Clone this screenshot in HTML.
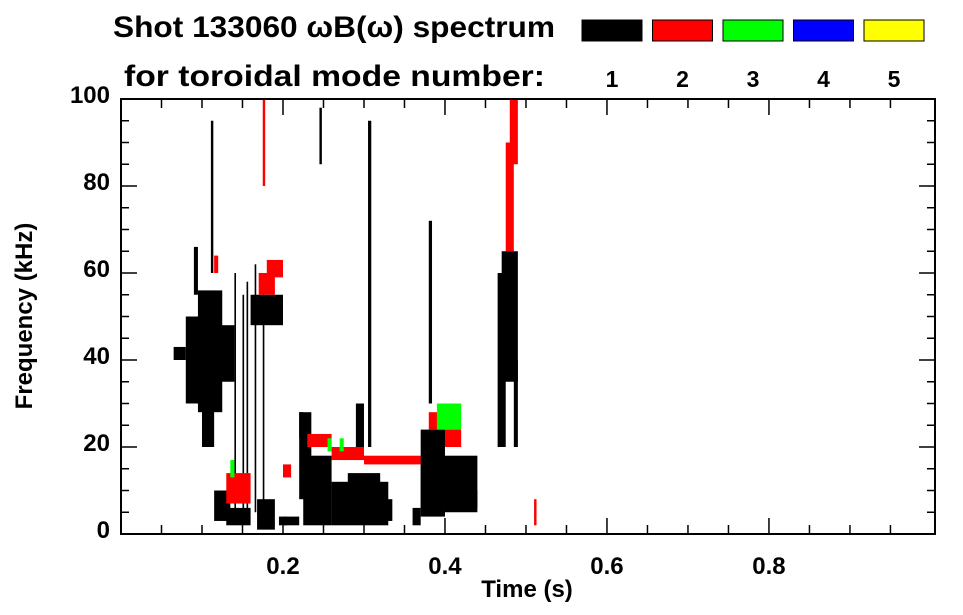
<!DOCTYPE html>
<html><head><meta charset="utf-8"><style>
body{margin:0;background:#fff;}
svg{display:block;font-family:"Liberation Sans",sans-serif;font-weight:bold;}
</style></head><body>
<svg id="chart" width="963" height="615">
<text x="113" y="37" font-size="30" textLength="442" lengthAdjust="spacingAndGlyphs">Shot 133060 ωB(ω) spectrum</text>
<text x="124" y="86" font-size="30" textLength="421" lengthAdjust="spacingAndGlyphs">for toroidal mode number:</text>
<g id="legend"></g>
<g id="marks"></g>
<g id="axes"></g>
<text x="527" y="597" font-size="24" text-anchor="middle">Time (s)</text>
<text transform="translate(32,316) rotate(-90)" font-size="24" text-anchor="middle">Frequency (kHz)</text>
</svg>
<script>
const modes=[1,2,3,4,5];
const modeColors=["#000","#f00","#0f0","#00f","#ff0"];
const xTicks=[0.2,0.4,0.6,0.8];
const yTicks=[0,20,40,60,80,100];
// patches: t0,t1,f0,f1,mode
const pT0=[0.065,0.08,0.095,0.10,0.11,0.09,0.111,0.115,0.13,0.14,0.15,0.155,0.165,0.175,0.168,0.16,0.195,0.2,0.22,0.225,0.26,0.28,0.305,0.245,0.29,0.37,0.37,0.40,0.38,0.465,0.47,0.485,0.22,0.30,0.36,
 0.17,0.18,0.175,0.23,0.26,0.30,0.38,0.40,0.475,0.48,0.13,0.115,0.2,0.51,
 0.39,0.27,0.135,0.255];
const pT1=[0.08,0.10,0.125,0.115,0.14,0.095,0.114,0.135,0.16,0.142,0.152,0.157,0.167,0.177,0.19,0.2,0.205,0.22,0.235,0.26,0.33,0.32,0.309,0.248,0.3,0.44,0.40,0.44,0.384,0.475,0.49,0.49,0.225,0.335,0.37,
 0.19,0.2,0.178,0.26,0.30,0.37,0.40,0.42,0.485,0.49,0.16,0.12,0.21,0.513,
 0.42,0.275,0.14,0.26];
const pF0=[40,30,28,20,35,55,60,3,2,5,5,5,5,5,1,48,2,2,8,2,2,5,20,85,20,6,4,5,30,20,35,20,22,3,2,
 55,59,80,20,17,16,24,20,65,85,7,60,13,2,
 24,19,13,19];
const pF1=[43,50,56,40,48,66,95,10,6,60,55,58,62,58,8,55,4,4,28,18,12,14,95,98,30,18,24,10,72,60,65,40,28,8,6,
 60,63,100,23,20,18,28,24,90,100,14,64,16,8,
 30,22,17,22];
const pMode=[1,1,1,1,1,1,1,1,1,1,1,1,1,1,1,1,1,1,1,1,1,1,1,1,1,1,1,1,1,1,1,1,1,1,1,
 2,2,2,2,2,2,2,2,2,2,2,2,2,2,
 3,3,3,3];
const X0=121,X1=935,Y0=534,Y1=99,TMAX=1.005;
const xs=t=>X0+t/TMAX*(X1-X0);
const ys=f=>Y0-f/100*(Y0-Y1);
const NS="http://www.w3.org/2000/svg";
function mk(tag,attrs,parent){const e=document.createElementNS(NS,tag);for(const k in attrs)e.setAttribute(k,attrs[k]);parent.appendChild(e);return e;}
const marks=document.getElementById('marks');
for(let i=0;i<pT0.length;i++){
 const r=mk('rect',{x:xs(pT0[i]),y:ys(pF1[i]),width:Math.max(1,xs(pT1[i])-xs(pT0[i])),height:ys(pF0[i])-ys(pF1[i]),fill:modeColors[pMode[i]-1]},marks);
 
 
}
const lg=document.getElementById('legend');
modes.forEach((m,i)=>{
 const x=582+i*70.5;
 const r=mk('rect',{x:x,y:20,width:60,height:21,fill:modeColors[i],stroke:"#000","stroke-width":1},lg);
 
 
 const t=mk('text',{x:x+30,y:87,"font-size":23,"text-anchor":"middle"},lg);
 t.textContent=m;
 
 
});
const ax=document.getElementById('axes');
mk('rect',{x:X0,y:Y1,width:X1-X0,height:Y0-Y1,fill:"none",stroke:"#000","stroke-width":2},ax);
for(let t=0.05;t<1.0;t+=0.05){
 const x=xs(t),major=Math.abs(t/0.2-Math.round(t/0.2))<1e-6;
 const L=major?16:9;
 mk('line',{x1:x,x2:x,y1:Y0,y2:Y0-L,stroke:"#000","stroke-width":1.5},ax);
 mk('line',{x1:x,x2:x,y1:Y1,y2:Y1+L,stroke:"#000","stroke-width":1.5},ax);
}
for(let f=5;f<100;f+=5){
 const y=ys(f),major=f%20===0;
 const L=major?16:8;
 mk('line',{x1:X0,x2:X0+L,y1:y,y2:y,stroke:"#000","stroke-width":1.5},ax);
 mk('line',{x1:X1,x2:X1-L,y1:y,y2:y,stroke:"#000","stroke-width":1.5},ax);
}
xTicks.forEach(t=>{
 const e=mk('text',{x:xs(t),y:574,"font-size":24,"text-anchor":"middle"},ax);
 e.textContent=t.toFixed(1);
 
 
});
yTicks.forEach(f=>{
 const e=mk('text',{x:110,y:ys(f)+4,"font-size":24,"text-anchor":"end"},ax);
 e.textContent=f;
 
 
});
</script>
</body></html>
